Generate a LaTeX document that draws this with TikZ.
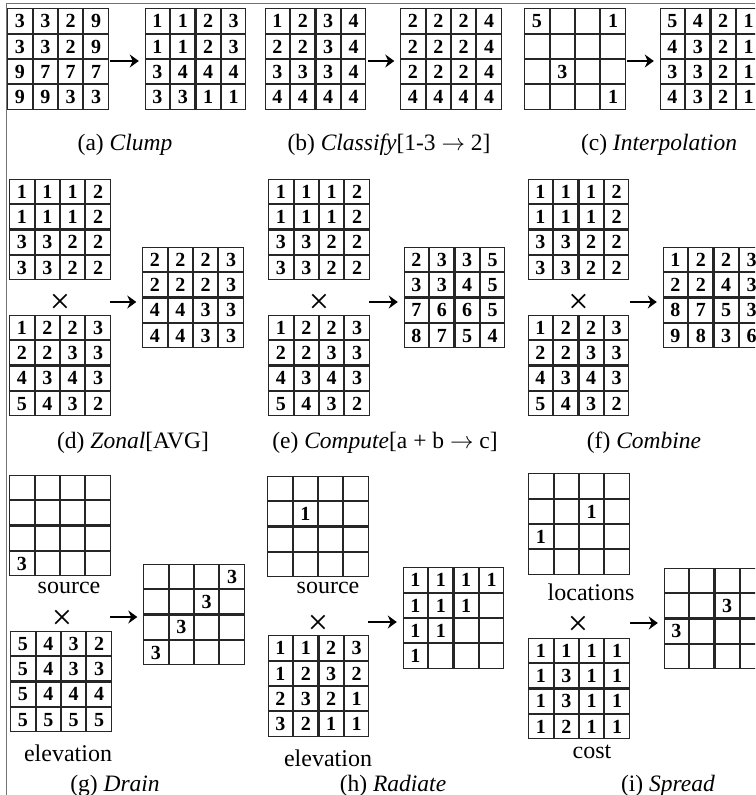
\RequirePackage{fix-cm}
\documentclass[tikz,border=0pt]{standalone}
\usepackage{fontspec}
\setmainfont{Liberation Serif}
\usetikzlibrary{arrows.meta,matrix}

\definecolor{gridline}{gray}{0.15}
\definecolor{framegray}{gray}{0.45}

\begin{document}
\begin{tikzpicture}[x=1pt, y=-1pt, >={Stealth[length=9pt,width=13pt]},
    raster/.style={matrix of nodes, nodes in empty cells,
        column sep=0pt, row sep=0pt, inner sep=0pt, outer sep=0pt,
        nodes={draw=gridline, line width=1.1pt, minimum size=24.25pt,
            text height=13.5pt, text depth=0pt, inner sep=0pt, outer sep=0pt,
            anchor=center, font=\fontsize{20}{20}\selectfont\bfseries}},
    flow/.style={->, line width=2.3pt, shorten >=6pt},
    cross/.style={font=\fontsize{36}{36}\selectfont, inner sep=0pt},
    tag/.style={anchor=base, inner sep=0pt, font=\fontsize{24}{24}\selectfont},
    caption/.style={anchor=base, inner sep=0pt, font=\fontsize{23.5}{23.5}\selectfont}]

\useasboundingbox (0,0) rectangle (755,795);
\clip (0,0) rectangle (755,795);

% ---- Frame (top and left only) ----
            \draw[framegray, line width=1pt] (6.5,795) -- (6.5,3.5) -- (755,3.5);

% ---- (a) Clump ----
            \matrix (aIn) [raster] at (58,59) {
                3 & 3 & 2 & 9 \\
                3 & 3 & 2 & 9 \\
                9 & 7 & 7 & 7 \\
                9 & 9 & 3 & 3 \\
            };
            \matrix (aOut) [raster] at (195.5,59) {
                1 & 1 & 2 & 3 \\
                1 & 1 & 2 & 3 \\
                3 & 4 & 4 & 4 \\
                3 & 3 & 1 & 1 \\
            };
            \coordinate (aTail) at (110,61);
            \draw[flow] (aTail) -- (aTail -| aOut.west);
            \node[caption] (aCap) at (125,150) {(a) \textit{Clump}};

% ---- (b) Classify ----
            \matrix (bIn) [raster] at (315.5,59) {
                1 & 2 & 3 & 4 \\
                2 & 2 & 3 & 4 \\
                3 & 3 & 3 & 4 \\
                4 & 4 & 4 & 4 \\
            };
            \matrix (bOut) [raster] at (451,59) {
                2 & 2 & 2 & 4 \\
                2 & 2 & 2 & 4 \\
                2 & 2 & 2 & 4 \\
                4 & 4 & 4 & 4 \\
            };
            \coordinate (bTail) at (368,61);
            \draw[flow] (bTail) -- (bTail -| bOut.west);
            \node[caption] (bCap) at (389,150) {(b) \textit{Classify}[1-3 $\rightarrow$ 2]};

% ---- (c) Interpolation ----
            \matrix (cIn) [raster] at (575,59) {
                5 &   &   & 1 \\
                  &   &   &   \\
                  & 3 &   &   \\
                  &   &   & 1 \\
            };
            \matrix (cOut) [raster] at (710.5,59) {
                5 & 4 & 2 & 1 \\
                4 & 3 & 2 & 1 \\
                3 & 3 & 2 & 1 \\
                4 & 3 & 2 & 1 \\
            };
            \coordinate (cTail) at (627,61);
            \draw[flow] (cTail) -- (cTail -| cOut.west);
            \node[caption] (cCap) at (659,150) {(c) \textit{Interpolation}};

% ---- Row 2: two layers in, one out ----
            \foreach \sub/\cx/\tx in {d/60/110, e/319/369, f/578.5/630} {
                \matrix (\sub A) [raster, ampersand replacement=\&] at (\cx,229.5) {
                    1 \& 1 \& 1 \& 2 \\
                    1 \& 1 \& 1 \& 2 \\
                    3 \& 3 \& 2 \& 2 \\
                    3 \& 3 \& 2 \& 2 \\
                };
                \matrix (\sub B) [raster, ampersand replacement=\&] at (\cx,365.5) {
                    1 \& 2 \& 2 \& 3 \\
                    2 \& 2 \& 3 \& 3 \\
                    4 \& 3 \& 4 \& 3 \\
                    5 \& 4 \& 3 \& 2 \\
                };
                \node[cross] (\sub X) at (\cx,304) {×};
                \coordinate (\sub Tail) at (\tx,302);
            }

            \matrix (dOut) [raster] at (193,297.5) {
                2 & 2 & 2 & 3 \\
                2 & 2 & 2 & 3 \\
                4 & 4 & 3 & 3 \\
                4 & 4 & 3 & 3 \\
            };
            \matrix (eOut) [raster] at (454.5,297.5) {
                2 & 3 & 3 & 5 \\
                3 & 3 & 4 & 5 \\
                7 & 6 & 6 & 5 \\
                8 & 7 & 5 & 4 \\
            };
            \matrix (fOut) [raster] at (713.5,297.5) {
                1 & 2 & 2 & 3 \\
                2 & 2 & 4 & 3 \\
                8 & 7 & 5 & 3 \\
                9 & 8 & 3 & 6 \\
            };
            \foreach \sub in {d,e,f} {
                \draw[flow] (\sub Tail) -- (\sub Tail -| \sub Out.west);
            }

            \node[caption] (dCap) at (133,448) {(d) \textit{Zonal}[AVG]};
            \node[caption] (eCap) at (385,448) {(e) \textit{Compute}[a + b $\rightarrow$ c]};
            \node[caption] (fCap) at (644,448) {(f) \textit{Combine}};

% ---- (g) Drain ----
            \matrix (gSrc) [raster] at (60,525.5) {
                  &   &   &   \\
                  &   &   &   \\
                  &   &   &   \\
                3 &   &   &   \\
            };
            \node[tag] (gSrcLab) at (69,593) {source};
            \node[cross] (gX) at (62,620) {×};
            \matrix (gElev) [raster] at (61,681.5) {
                5 & 4 & 3 & 2 \\
                5 & 4 & 3 & 3 \\
                5 & 4 & 4 & 4 \\
                5 & 5 & 5 & 5 \\
            };
            \node[tag] (gElevLab) at (68,761) {elevation};
            \matrix (gOut) [raster] at (194,614.5) {
                  &   &   & 3 \\
                  &   & 3 &   \\
                  & 3 &   &   \\
                3 &   &   &   \\
            };
            \coordinate (gTail) at (110,617);
            \draw[flow] (gTail) -- (gTail -| gOut.west);
            \node[caption] (gCap) at (115,791) {(g) \textit{Drain}};

% ---- (h) Radiate ----
            \matrix (hSrc) [raster] at (318,526.5) {
                  &   &   &   \\
                  & 1 &   &   \\
                  &   &   &   \\
                  &   &   &   \\
            };
            \node[tag] (hSrcLab) at (328,593) {source};
            \node[cross] (hX) at (318,625) {×};
            \matrix (hElev) [raster] at (318.5,686) {
                1 & 1 & 2 & 3 \\
                1 & 2 & 3 & 2 \\
                2 & 3 & 2 & 1 \\
                3 & 2 & 1 & 1 \\
            };
            \node[tag] (hElevLab) at (328,766) {elevation};
            \matrix (hOut) [raster] at (453.5,618) {
                1 & 1 & 1 & 1 \\
                1 & 1 & 1 &   \\
                1 & 1 &   &   \\
                1 &   &   &   \\
            };
            \coordinate (hTail) at (368,622);
            \draw[flow] (hTail) -- (hTail -| hOut.west);
            \node[caption] (hCap) at (393,791) {(h) \textit{Radiate}};

% ---- (i) Spread ----
            \matrix (iLoc) [raster] at (579,524) {
                  &   &   &   \\
                  &   & 1 &   \\
                1 &   &   &   \\
                  &   &   &   \\
            };
            \node[tag] (iLocLab) at (591,600) {locations};
            \node[cross] (iX) at (578,626) {×};
            \matrix (iCost) [raster] at (579,688.5) {
                1 & 1 & 1 & 1 \\
                1 & 3 & 1 & 1 \\
                1 & 3 & 1 & 1 \\
                1 & 2 & 1 & 1 \\
            };
            \node[tag] (iCostLab) at (592,758) {cost};
            \matrix (iOut) [raster] at (714.5,618.5) {
                  &   &   &   \\
                  &   & 3 &   \\
                3 &   &   &   \\
                  &   &   &   \\
            };
            \coordinate (iTail) at (630,623);
            \draw[flow] (iTail) -- (iTail -| iOut.west);
            \node[caption] (iCap) at (668,791) {(i) \textit{Spread}};

\end{tikzpicture}
\end{document}
